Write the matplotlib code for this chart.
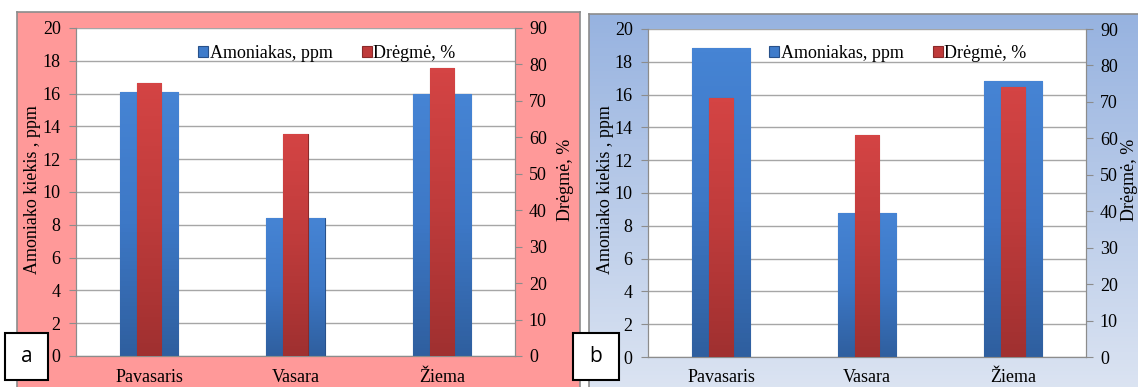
import numpy as np
import matplotlib
matplotlib.use("Agg")
import matplotlib.pyplot as plt
from matplotlib.patches import Rectangle
from matplotlib.colors import LinearSegmentedColormap

plt.rcParams['font.family'] = ['Liberation Serif', 'DejaVu Serif']

# data
seasons = ['Pavasaris', 'Vasara', 'Žiema']
ammonia_a = [16.1, 8.4, 15.95]
humidity_a = [75, 61, 79]
ammonia_b = [18.85, 8.8, 16.8]
humidity_b = [71, 61, 74]
panel_labels = ['a', 'b']

W, H = 1138, 387
fig = plt.figure(figsize=(W / 100, H / 100), dpi=100)


def fx(px):
    return px / W


def fy(py):
    return 1 - py / H


blue_cmap = LinearSegmentedColormap.from_list('bl', ['#2F5F9F', '#3D78C6', '#4684D4'])
red_cmap = LinearSegmentedColormap.from_list('rd', ['#A03030', '#BE3B3B', '#D44444'])


def shade_bars(ax, bars, cmap, edge):
    grad = np.linspace(0, 1, 64).reshape(-1, 1)
    for b in bars:
        x0, y0 = b.get_x(), b.get_y()
        w, h = b.get_width(), b.get_height()
        im = ax.imshow(grad, cmap=cmap, origin='lower', aspect='auto',
                       extent=(x0, x0 + w, y0, y0 + h), zorder=b.get_zorder() + 0.1)
        im.set_clip_path(b)
        b.set_edgecolor(edge)
        b.set_linewidth(0.8)


def draw_panel(rect, bg, axes_box, ammonia, humidity, label, label_box, ylab_x, y2lab_x, leg_x):
    # panel background (always an axes behind the chart)
    bax = fig.add_axes([fx(rect[0]), fy(rect[1] + rect[3]), fx(rect[2]), rect[3] / H], zorder=-5)
    grad = np.linspace(0, 1, 100).reshape(-1, 1)
    cm = LinearSegmentedColormap.from_list('bg', [bg[1], bg[0]])
    bax.imshow(grad, cmap=cm, origin='lower', aspect='auto', extent=(0, 1, 0, 1))
    bax.set_xticks([])
    bax.set_yticks([])
    for s in bax.spines.values():
        s.set_color('#8C8C8C')
        s.set_linewidth(1.2)

    x0, y0, x1, y1 = axes_box
    ax = fig.add_axes([fx(x0), fy(y1), fx(x1 - x0), (y1 - y0) / H])
    ax.set_facecolor('white')
    x = np.arange(len(seasons))
    bars1 = ax.bar(x, ammonia, width=0.4, color='#3F7CCB', zorder=3, label='Amoniakas, ppm')
    shade_bars(ax, bars1, blue_cmap, '#28518A')
    ax.set_ylim(0, 20)
    ax.set_xlim(-0.5, 2.5)
    ax.set_yticks(range(0, 21, 2))
    ax.yaxis.grid(True, color='#A6A6A6', lw=1.0, zorder=0)
    ax.set_axisbelow(True)
    ax.set_xticks(x)
    ax.set_xticklabels(seasons, fontsize=13)
    ax.tick_params(axis='x', length=0, pad=9)
    ax.tick_params(axis='y', labelsize=13, length=5, color='#8C8C8C', pad=6)
    ax.spines['top'].set_visible(False)
    for s in ['left', 'right', 'bottom']:
        ax.spines[s].set_color('#8C8C8C')

    ax2 = ax.twinx()
    bars2 = ax2.bar(x, humidity, width=0.167, color='#BF3A3A', zorder=3, label='Drėgmė, %')
    shade_bars(ax2, bars2, red_cmap, '#8A2A2A')
    ax2.set_ylim(0, 90)
    ax2.set_yticks(range(0, 91, 10))
    ax2.tick_params(axis='y', labelsize=13, length=5, color='#8C8C8C', pad=5)
    ax2.spines['top'].set_visible(False)
    for s in ['left', 'right', 'bottom']:
        ax2.spines[s].set_color('#8C8C8C')

    fig.text(fx(ylab_x), fy(190), 'Amoniako kiekis , ppm', rotation=90,
             ha='center', va='center', fontsize=13)
    fig.text(fx(y2lab_x), fy(180), 'Drėgmė, %', rotation=90,
             ha='center', va='center', fontsize=13)

    leg = ax2.legend([bars1, bars2], ['Amoniakas, ppm', 'Drėgmė, %'], ncol=2, frameon=False,
                     loc='center', bbox_to_anchor=((leg_x - x0) / (x1 - x0), (y1 - 53) / (y1 - y0)),
                     fontsize=13, handlelength=0.55, handleheight=0.55, handletextpad=0.1,
                     columnspacing=1.6, borderaxespad=0)
    leg.set_zorder(5)

    bx, by, bw, bh = label_box
    fig.add_artist(Rectangle((fx(bx), fy(by + bh)), fx(bw), bh / H, transform=fig.transFigure,
                             facecolor='white', edgecolor='black', lw=1.5, zorder=10))
    fig.text(fx(bx + bw / 2), fy(by + bh / 2), label, ha='center', va='center',
             fontsize=15, family=['Open Sans', 'DejaVu Sans'], zorder=11)


draw_panel((17, 12, 563, 380), ('#FF9999', '#FF9999'), (76, 28, 515, 356), ammonia_a, humidity_a,
           panel_labels[0], (5, 333, 43, 47), 33, 565, 327)
draw_panel((589, 14, 560, 380), ('#97B3E0', '#DCE4F2'), (648, 29, 1086, 357), ammonia_b, humidity_b,
           panel_labels[1], (573, 333, 46, 47), 605, 1129, 898)

fig.savefig('out.png', dpi=100)
